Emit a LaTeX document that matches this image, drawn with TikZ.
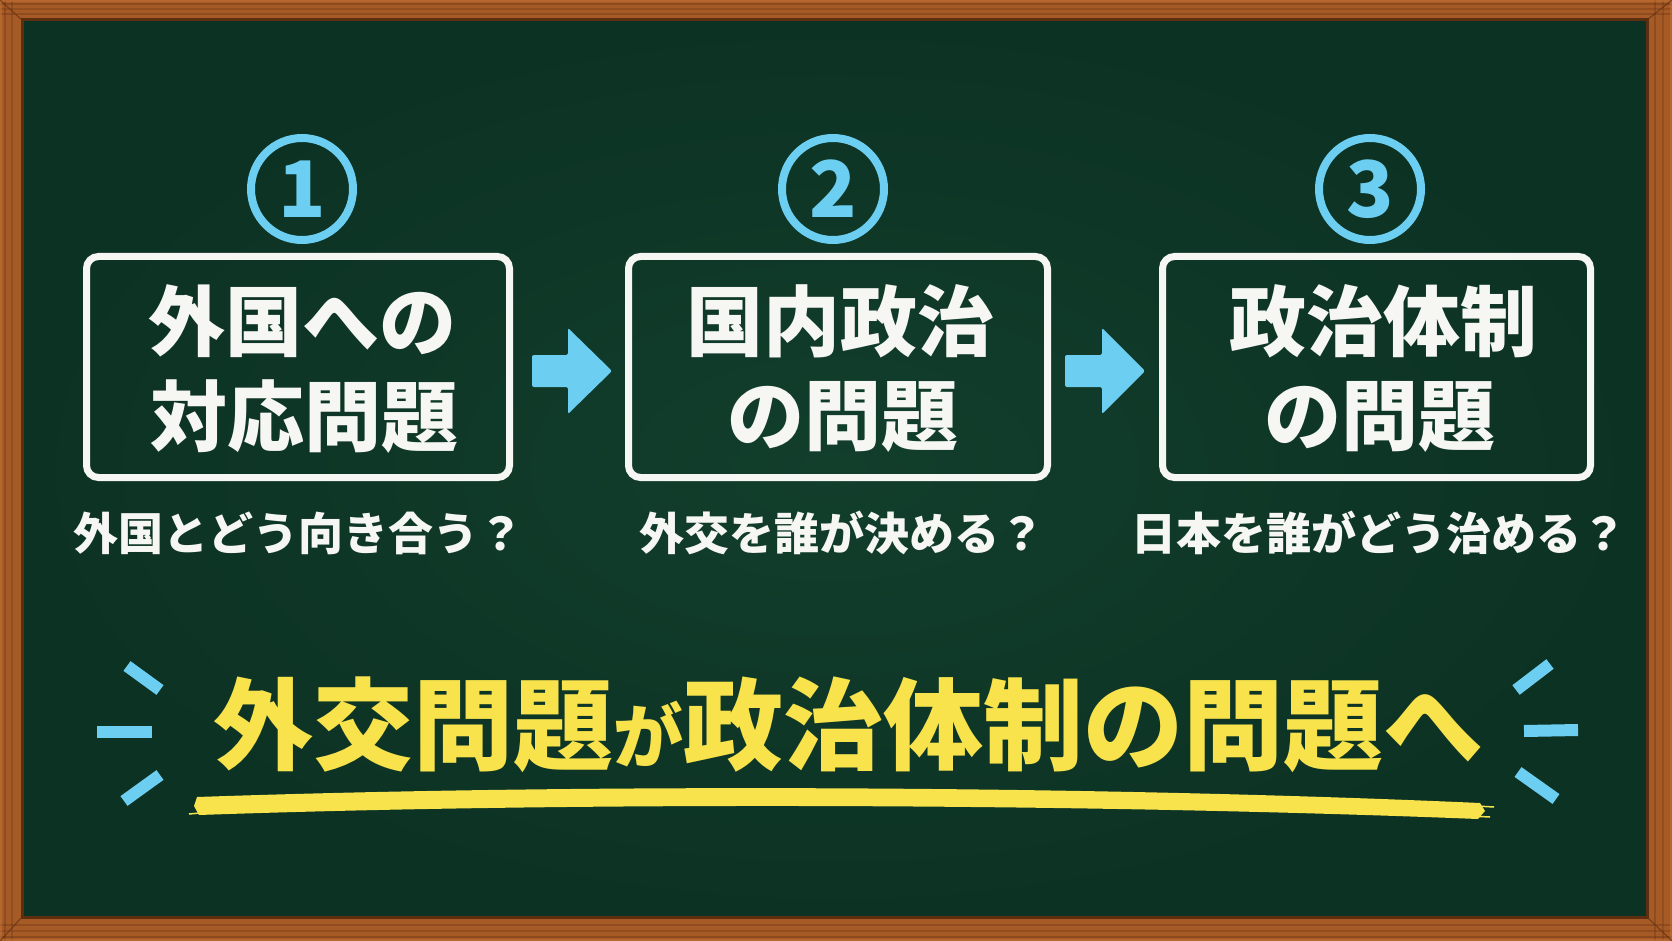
\documentclass[tikz,border=0pt]{standalone}
\usepackage{fontspec}
\newfontfamily\jp{Noto Sans CJK JP}
\usetikzlibrary{calc}
\definecolor{board}{HTML}{0C3223}
\definecolor{boardlight}{HTML}{123E2C}
\definecolor{wood}{HTML}{A65A26}
\definecolor{woodlight}{HTML}{C07034}
\definecolor{wooddark}{HTML}{5E2E10}
\definecolor{chalkcyan}{HTML}{6CCFF2}
\definecolor{chalkyellow}{HTML}{F8E34C}
\definecolor{chalkwhite}{HTML}{F6F6F2}
\tikzset{
  numcircle/.style={circle, draw=chalkcyan, line width=8, minimum size=102, inner sep=0,
    text=chalkcyan, font=\jp\bfseries\fontsize{78}{78}\selectfont},
  chalkbox/.style={draw=chalkwhite, line width=7, rounded corners=12, minimum height=221, inner sep=0},
  boxtext/.style={text=chalkwhite, inner sep=0, font=\jp\bfseries\fontsize{77}{77}\selectfont},
  subtext/.style={text=chalkwhite, inner sep=0, font=\jp\bfseries\fontsize{45}{45}\selectfont},
  arrowfill/.style={fill=chalkcyan, rounded corners=2},
  dashline/.style={draw=chalkcyan, line width=12, line cap=butt},
  titletext/.style={inner sep=0, font=\jp\bfseries\fontsize{100}{100}\selectfont},
}
\begin{document}
\begin{tikzpicture}[x=1pt,y=-1pt]
\useasboundingbox (0,0) rectangle (1672,941);
% wooden frame
\fill[wood] (0,0) rectangle (1672,941);
\foreach \yy/\op in {4/0.35,9/0.25,14/0.3,925/0.3,931/0.25,937/0.35}
  \draw[wooddark, opacity=\op, line width=1.5] (0,\yy) -- (1672,\yy);
\foreach \xx/\op in {5/0.3,12/0.25,1655/0.3,1663/0.25}
  \draw[wooddark, opacity=\op, line width=1.5] (\xx,0) -- (\xx,941);
\draw[woodlight, opacity=0.6, line width=2] (1,1) rectangle (1671,940);
\draw[wooddark, opacity=0.6, line width=1.2] (0,0) -- (22,20) (1672,0) -- (1647,20)
  (0,941) -- (22,917) (1672,941) -- (1647,917);
% board
\shade[inner color=boardlight, outer color=board] (22,20) rectangle (1647,917);
\draw[wooddark, line width=3] (22,20) rectangle (1647,917);

% numbered circles
\node[numcircle] (c1) at (302,189) {1};
\node[numcircle] (c2) at (833,189) {2};
\node[numcircle] (c3) at (1370,189) {3};

% boxes
\node[chalkbox, minimum width=423] (b1) at (298,367) {};
\node[chalkbox, minimum width=419] (b2) at (838,367) {};
\node[chalkbox, minimum width=428] (b3) at (1376.5,367) {};

\node[boxtext] (t1a) at (302,321) {外国への};
\node[boxtext] (t1b) at (304,417) {対応問題};
\node[boxtext] (t2a) at (840,321) {国内政治};
\node[boxtext] (t2b) at (843,417) {の問題};
\node[boxtext] (t3a) at (1383,321) {政治体制};
\node[boxtext] (t3b) at (1380,417) {の問題};

% subtitles
\node[subtext] (s1) at (298,533) {外国とどう向き合う？};
\node[subtext] (s2) at (842,533) {外交を誰が決める？};
\node[subtext] (s3) at (1379,533) {日本を誰がどう治める？};

% arrows between boxes
\fill[arrowfill] ($(b1.east)+(19,-12)$) -- ++(36,0) -- ++(0,-27) -- ++(44,43)
  -- ++(-44,43) -- ++(0,-27) -- ++(-36,0) -- cycle;
\fill[arrowfill] ($(b2.east)+(14,-12)$) -- ++(37,0) -- ++(0,-27) -- ++(43,43)
  -- ++(-43,43) -- ++(0,-27) -- ++(-37,0) -- cycle;

% emphasis dashes
\draw[dashline] (127,666) -- (160,690);
\draw[dashline] (97,732) -- (152,732);
\draw[dashline] (160,775) -- (124,801);
\draw[dashline] (1516,690) -- (1550,664);
\draw[dashline] (1524,731) -- (1578,730);
\draw[dashline] (1518,772) -- (1556,799);

% title
\node[titletext, text=chalkyellow] (ttl) at (848,725)
  {外交問題{\fontsize{70}{70}\selectfont が}政治体制の問題へ};

% underline brush stroke
\fill[chalkyellow] (197,797) .. controls (600,783) and (1100,786) .. (1480,803)
  -- (1485,811) -- (1478,819) .. controls (1100,804) and (600,801) .. (199,815)
  -- (194,806) -- cycle;
\draw[chalkyellow, line width=1.5] (1440,804) -- (1494,807) (1450,815) -- (1490,817)
  (200,813) -- (189,814);
\end{tikzpicture}
\end{document}
